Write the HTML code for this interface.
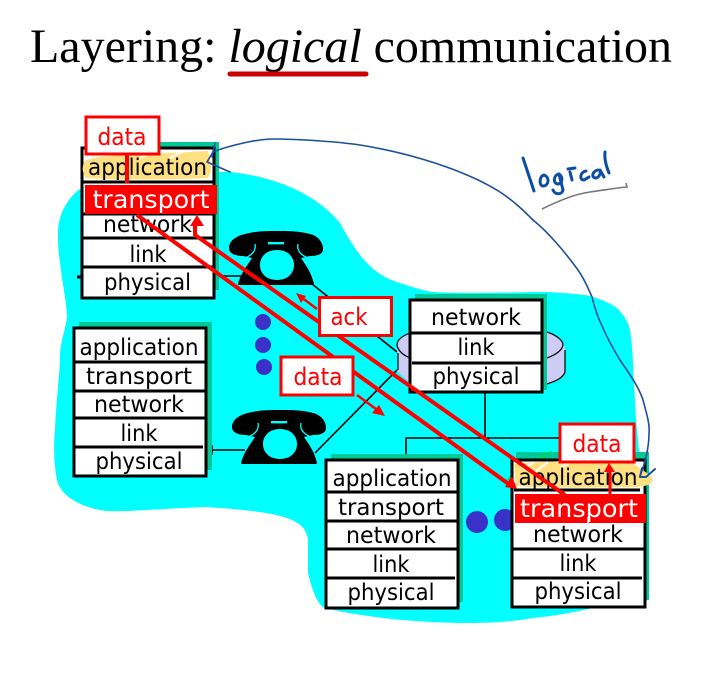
<!DOCTYPE html>
<html><head><meta charset="utf-8"><style>
html,body{margin:0;padding:0;background:#fff}
svg{display:block}
.t{font-family:"DejaVu Sans",sans-serif;font-size:23px;text-anchor:middle;fill:#000}
.r{font-family:"DejaVu Sans",sans-serif;font-size:24px;text-anchor:middle;fill:#f00}
.w{font-family:"DejaVu Sans",sans-serif;font-size:25px;text-anchor:middle;fill:#fff}
</style></head><body>
<svg width="709" height="673" viewBox="0 0 709 673" xmlns="http://www.w3.org/2000/svg">
<defs>
<g id="ph">
<path fill-rule="evenodd" fill="#000" d="M-38,11 C-36,3 -32,-3 -28,-9 L-24,-15 L-33,-17 C-40,-17 -47,-19 -47,-25 C-47,-32 -40,-37 -31,-39 C-20,-42 -10,-42 1,-42 C12,-42 23,-42 34,-39 C42,-37 47,-31 47,-24 C47,-19 42,-17 34,-17 L25,-15 L29,-9 C33,-3 36,3 38,11 Q38,12 36,12 L-36,12 Q-38,12 -38,11Z M1,-23 C-10,-23 -16,-16 -16,-8 C-16,0 -10,7 1,7 C12,7 18,0 18,-8 C18,-16 12,-23 1,-23Z"/>
<path d="M-21,-29 Q-19,-20 -31,-15 M22,-29 Q20,-20 32,-15" fill="none" stroke="#0ff" stroke-width="1.3"/>
<rect x="-8" y="-31" width="16" height="2.4" fill="#0ff"/>
</g>
</defs>

<text x="30" y="62" font-family="'Liberation Serif',serif" font-size="47.5" fill="#000" textLength="642" lengthAdjust="spacingAndGlyphs">Layering: <tspan font-style="italic">logical</tspan> communication</text>
<path d="M230,74 H366" stroke="#c80000" stroke-width="5" stroke-linecap="round"/>

<path fill="#0ff" d="M80,189 C110,178 170,172 230,172 C262,175 312,188 340,223 C355,250 370,275 400,283 C415,288 425,291 433,292 C470,294 520,292 547,292 C565,293 580,294 590,296 C600,299 610,303 617,308 C624,315 628,322 630,330 C632,345 633,355 633,367 C634,385 635,400 636,420 L640,460 L640,600 C625,603 610,606 593,608 C575,612 555,616 533,618 C510,622 490,623 467,623 C440,623 410,621 383,618 C360,615 340,612 325,608 C318,606 312,590 308,573 L308,540 C306,518 280,512 207,507 C170,508 130,512 107,511 C80,508 60,495 57,480 C53,460 54,440 55,430 C56,400 60,375 60,353 C62,335 67,325 67,315 C66,300 62,280 60,263 C58,250 58,240 58,230 C59,220 61,214 63,210 C68,200 74,193 80,189Z"/>

<!-- connectors -->
<g fill="none" stroke="#000" stroke-width="1.6">
<path d="M216,276 H245"/><path d="M312,284 L397,352"/><path d="M212,450 H245"/>
<path d="M315,453 L397,370"/><path d="M485,392 V438"/><path d="M406,458 V438 H575"/>
<path d="M212,445 V455"/><path d="M77,277 H81" stroke-width="3"/>
</g>

<!-- router disk -->
<path d="M410,333 C402,336 397,340 397,345 L398,372 L410,383 H547 C556,381 563,378 565,372 V350 C565,342 556,336 547,332Z" fill="#ccccf5"/>
<path d="M410,333 C402,336 397,340 397,345 C398,351 403,355 410,358 M547,332 C556,335 563,340 563,345 C562,351 555,355 547,358 M565,350 V372 C563,378 556,381 547,384 M398,353 V370" fill="none" stroke="#000" stroke-width="1.2"/>

<use href="#ph" x="276" y="273"/>
<use href="#ph" x="279" y="452"/>

<circle cx="263" cy="322" r="8" fill="#3a32c8"/><circle cx="263" cy="345" r="8" fill="#3a32c8"/><circle cx="264" cy="367" r="8" fill="#3a32c8"/>
<circle cx="477" cy="522" r="11" fill="#3a32c8"/><circle cx="505" cy="520" r="11" fill="#3a32c8"/>

<!-- stack 1 -->
<rect x="88" y="142" width="131" height="148" fill="#00c896"/>
<rect x="82" y="148" width="132" height="150" fill="#fff" stroke="#000" stroke-width="3"/>
<path d="M84,162 C90,157 110,155 130,155 L208,151 C212,160 212,172 208,178 C170,180 110,180 86,178 C82,172 82,168 84,162Z" fill="#ffe080"/>
<path d="M140,158 L155,151 M170,158 L184,151" stroke="#fff" stroke-width="2.500" opacity=".8"/>
<path d="M83,182 H214 M83,214 H214 M83,238 H214 M83,267 H214" stroke="#000" stroke-width="3"/>
<text class="t" x="147.500" y="175" textLength="119" lengthAdjust="spacingAndGlyphs">application</text>
<text class="t" x="147.500" y="232" textLength="89" lengthAdjust="spacingAndGlyphs">network</text>
<text class="t" x="148" y="262" textLength="37" lengthAdjust="spacingAndGlyphs">link</text>
<text class="t" x="147.500" y="290" textLength="87" lengthAdjust="spacingAndGlyphs">physical</text>

<!-- stack 2 -->
<rect x="79" y="322" width="133" height="148" fill="#00c896"/>
<rect x="74" y="328" width="132" height="148" fill="#fff" stroke="#000" stroke-width="3"/>
<path d="M75,362 H206 M75,391 H206 M75,418 H206 M75,447 H203" stroke="#000" stroke-width="3"/>
<text class="t" x="139" y="355" textLength="119" lengthAdjust="spacingAndGlyphs">application</text>
<text class="t" x="139" y="384" textLength="106" lengthAdjust="spacingAndGlyphs">transport</text>
<text class="t" x="139" y="412" textLength="90" lengthAdjust="spacingAndGlyphs">network</text>
<text class="t" x="139" y="441" textLength="37" lengthAdjust="spacingAndGlyphs">link</text>
<text class="t" x="139" y="469" textLength="87" lengthAdjust="spacingAndGlyphs">physical</text>

<!-- router stack -->
<rect x="415" y="294" width="132" height="96" fill="#00c896"/>
<rect x="410" y="300" width="132" height="92" fill="#fff" stroke="#000" stroke-width="3"/>
<path d="M411,333 H541 M412,363 H541" stroke="#000" stroke-width="3"/>
<text class="t" x="476" y="325" textLength="90" lengthAdjust="spacingAndGlyphs">network</text>
<text class="t" x="476" y="355" textLength="37" lengthAdjust="spacingAndGlyphs">link</text>
<text class="t" x="476" y="384" textLength="87" lengthAdjust="spacingAndGlyphs">physical</text>

<!-- stack 4 -->
<rect x="331" y="454" width="132" height="148" fill="#00c896"/>
<rect x="326" y="460" width="132" height="148" fill="#fff" stroke="#000" stroke-width="3"/>
<path d="M327,492 H458 M327,521 H458 M327,549 H458 M327,578 H455" stroke="#000" stroke-width="3"/>
<text class="t" x="392" y="486" textLength="119" lengthAdjust="spacingAndGlyphs">application</text>
<text class="t" x="391" y="515" textLength="106" lengthAdjust="spacingAndGlyphs">transport</text>
<text class="t" x="391" y="543" textLength="90" lengthAdjust="spacingAndGlyphs">network</text>
<text class="t" x="391" y="572" textLength="37" lengthAdjust="spacingAndGlyphs">link</text>
<text class="t" x="391" y="600" textLength="87" lengthAdjust="spacingAndGlyphs">physical</text>

<!-- stack 5 -->
<rect x="516" y="452" width="133" height="148" fill="#00c896"/>
<path d="M553,450 L540,462 L530,462 L540,456Z M515,470 L507,480 L514,482Z" fill="#00d060"/>
<rect x="512" y="460" width="133" height="147" fill="#fff" stroke="#000" stroke-width="3"/>
<path d="M514,464 C560,460 610,460 632,462 C640,470 652,474 653,480 C652,486 640,488 620,487 C590,488 540,488 516,486Z" fill="#ffe080"/>
<path d="M523,470 L534,462 M535,472 L548,462 M560,468 L572,461" stroke="#fff" stroke-width="2.500" opacity=".8"/>
<path d="M514,490 H640 M513,549 H644 M513,578 H642" stroke="#000" stroke-width="3"/>
<text class="t" x="578" y="485" textLength="119" lengthAdjust="spacingAndGlyphs">application</text>
<text class="t" x="578" y="542" textLength="90" lengthAdjust="spacingAndGlyphs">network</text>
<text class="t" x="578" y="571" textLength="37" lengthAdjust="spacingAndGlyphs">link</text>
<text class="t" x="578" y="599" textLength="87" lengthAdjust="spacingAndGlyphs">physical</text>

<!-- red transport -->
<rect x="85" y="185" width="132" height="29" fill="#f00"/>
<text class="w" x="151" y="208" textLength="117" lengthAdjust="spacingAndGlyphs">transport</text>
<rect x="515" y="494" width="131" height="29" fill="#f00"/>
<text class="w" x="579" y="517" textLength="118" lengthAdjust="spacingAndGlyphs">transport</text>
<path d="M588,517 V523" stroke="#fff" stroke-width="1.5"/>

<!-- red arrows -->
<g stroke="#f00" fill="none">
<path d="M137,215 L510,485" stroke-width="4"/>
<path d="M195,235 L565,495" stroke-width="4"/>
<path d="M195,236 V224" stroke-width="4"/>
<path d="M127,155 V183" stroke-width="4"/>
<path d="M610,494 V470" stroke-width="3"/>
<path d="M317,309 L301,297" stroke-width="2.5"/>
<path d="M357,395 L380,412" stroke-width="2.5"/>
</g>
<g fill="#f00">
<path d="M197,215 L204,226 H190Z"/>
<path d="M517,489 L505,487 L512,476Z"/>
<path d="M609,463 L615,472 H604Z"/>
<path d="M296,293 L306,296 L301,303Z"/>
<path d="M385,416 L372,413 L379,405Z"/>
</g>

<!-- labels -->
<rect x="86" y="117" width="73" height="37" fill="#fff" stroke="#f00" stroke-width="3"/>
<text class="r" x="122" y="145" textLength="49" lengthAdjust="spacingAndGlyphs">data</text>
<rect x="319.500" y="297.500" width="72" height="38" fill="#fff" stroke="#f00" stroke-width="3"/>
<text class="r" x="349" y="325" textLength="37" lengthAdjust="spacingAndGlyphs">ack</text>
<rect x="281" y="357" width="72" height="38" fill="#fff" stroke="#f00" stroke-width="3"/>
<text class="r" x="318" y="385" textLength="49" lengthAdjust="spacingAndGlyphs">data</text>
<rect x="560" y="424" width="74" height="38" fill="#fff" stroke="#f00" stroke-width="3"/>
<text class="r" x="597" y="452" textLength="49" lengthAdjust="spacingAndGlyphs">data</text>

<!-- blue ink -->
<g fill="none" stroke="#1a4f9c" stroke-width="1.6" stroke-linecap="round" stroke-linejoin="round">
<path d="M213,152 C225,147 255,139 273,139 C300,139 340,142 360,145 C410,153 465,170 500,192 C515,202 525,212 533,220 C548,232 565,252 578,270 C585,280 588,288 592,297 C595,310 598,318 603,328 C608,340 614,350 620,360 C628,372 638,385 643,400 C647,415 650,425 649,433 C649,445 647,458 640,476"/>
<path d="M213,152 L207,162 L230,172"/>
<path d="M215,143 L212,157"/>
<path d="M642,468 L640,477 L646,477 L655,469" stroke-width="2"/>
</g>
<g fill="none" stroke="#0b4ea2" stroke-width="3" stroke-linecap="round" stroke-linejoin="round">
<path d="M523,158 L534,191"/>
<path d="M544,175 C539,176 539,186 543,186 C549,186 550,177 544,175Z"/>
<path d="M559,174 C553,175 553,184 558,184 C563,183 563,177 559,174 L563,190 C562,195 555,195 553,190"/>
<path d="M570,172 L572,180"/>
<path d="M568,169 L575,168"/>
<path d="M586,171 C580,172 579,180 584,180 L589,177"/>
<path d="M598,170 C592,171 591,178 596,178 C600,177 601,172 600,170 L604,177"/>
<path d="M605,152 C604,160 607,168 609,173"/>
</g>
<path d="M542,209 C560,200 575,194 590,192 C605,190 615,188 627,187 L626,183" fill="none" stroke="#777" stroke-width="1.6"/>
</svg>
</body></html>
